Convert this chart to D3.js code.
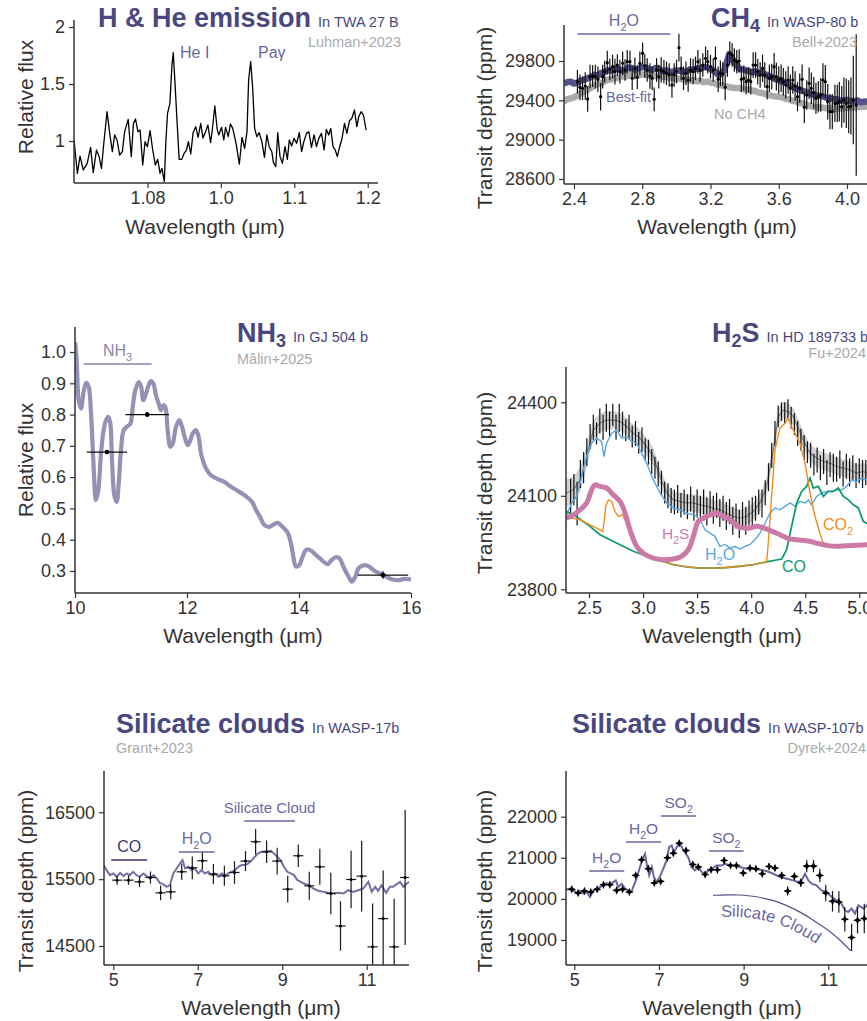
<!DOCTYPE html>
<html><head><meta charset="utf-8">
<script src="https://cdn.jsdelivr.net/npm/d3@7"></script>
<style>body{margin:0;background:#fff} text{font-family:"Liberation Sans",Arial,sans-serif}</style>
</head><body><svg id="c" width="867" height="1021"></svg>
<script>
// ---------------- DATA ----------------
// Panel 1: H & He emission (TWA 27 B)
const heSpectrum = [[1.0000,1.009],[1.0023,0.716],[1.0041,0.868],[1.0063,0.746],[1.0090,0.804],[1.0113,0.944],[1.0131,0.722],[1.0153,0.921],[1.0171,0.863],[1.0187,0.760],[1.0203,0.980],[1.0225,1.257],[1.0243,1.067],[1.0261,0.906],[1.0277,1.053],[1.0293,1.009],[1.0311,0.877],[1.0329,0.906],[1.0345,1.082],[1.0369,1.190],[1.0390,0.863],[1.0405,1.155],[1.0419,1.193],[1.0435,1.082],[1.0450,1.096],[1.0468,0.789],[1.0484,0.994],[1.0500,0.950],[1.0518,1.091],[1.0536,0.921],[1.0554,0.789],[1.0570,0.839],[1.0586,0.716],[1.0599,0.760],[1.0615,0.643],[1.0626,1.009],[1.0637,1.243],[1.0653,1.330],[1.0667,1.667],[1.0676,1.775],[1.0689,1.477],[1.0705,1.096],[1.0716,0.839],[1.0734,0.839],[1.0750,0.892],[1.0766,0.921],[1.0779,0.994],[1.0795,0.886],[1.0811,1.073],[1.0829,1.126],[1.0845,1.032],[1.0863,1.155],[1.0878,1.026],[1.0896,1.082],[1.0912,1.140],[1.0930,0.985],[1.0941,1.091],[1.0959,1.307],[1.0975,1.102],[1.0986,1.053],[1.1005,1.120],[1.1020,1.009],[1.1032,1.120],[1.1050,1.038],[1.1065,1.149],[1.1081,1.111],[1.1104,0.974],[1.1126,0.798],[1.1144,1.032],[1.1162,0.936],[1.1178,1.082],[1.1189,1.535],[1.1203,1.696],[1.1216,1.477],[1.1230,1.111],[1.1245,1.038],[1.1261,1.073],[1.1279,0.994],[1.1297,0.857],[1.1313,1.053],[1.1329,0.950],[1.1347,0.906],[1.1358,0.810],[1.1374,0.775],[1.1387,1.073],[1.1403,0.863],[1.1419,0.804],[1.1437,0.950],[1.1453,0.839],[1.1466,1.009],[1.1482,0.956],[1.1498,1.023],[1.1516,0.980],[1.1534,1.073],[1.1550,0.906],[1.1565,0.994],[1.1583,1.067],[1.1599,1.082],[1.1617,0.944],[1.1635,1.053],[1.1651,0.950],[1.1667,1.023],[1.1685,1.067],[1.1703,0.921],[1.1718,1.102],[1.1734,1.053],[1.1748,1.111],[1.1764,0.950],[1.1779,0.921],[1.1793,0.863],[1.1809,0.950],[1.1824,1.015],[1.1842,1.155],[1.1858,1.067],[1.1876,1.178],[1.1892,1.199],[1.1910,1.272],[1.1926,1.126],[1.1939,1.213],[1.1955,1.257],[1.1971,1.228],[1.1989,1.096]];
const heXTickVals = [1.05,1.10,1.15,1.20];
const heXTickLabels = ["1.08","1.0","1.1","1.2"];
const heYTicks = [1,1.5,2];

// Panel 2: CH4 (WASP-80 b)
const ch4BestFit = [[2.34,29570],[2.36,29585],[2.38,29590],[2.40,29570],[2.42,29580],[2.44,29600],[2.46,29610],[2.48,29625],[2.50,29635],[2.52,29660],[2.54,29650],[2.56,29680],[2.58,29690],[2.60,29705],[2.62,29700],[2.64,29725],[2.66,29720],[2.68,29700],[2.70,29710],[2.72,29735],[2.74,29730],[2.76,29710],[2.78,29725],[2.80,29740],[2.82,29735],[2.84,29715],[2.86,29710],[2.88,29730],[2.90,29720],[2.92,29695],[2.94,29705],[2.96,29690],[2.98,29690],[3.00,29705],[3.02,29700],[3.04,29685],[3.06,29695],[3.08,29715],[3.10,29710],[3.12,29725],[3.14,29720],[3.16,29740],[3.18,29735],[3.20,29720],[3.22,29700],[3.25,29655],[3.28,29700],[3.31,29870],[3.34,29790],[3.37,29720],[3.40,29710],[3.42,29700],[3.44,29685],[3.46,29695],[3.48,29675],[3.50,29680],[3.52,29665],[3.54,29650],[3.56,29635],[3.58,29615],[3.60,29605],[3.62,29590],[3.64,29580],[3.66,29560],[3.68,29540],[3.70,29520],[3.72,29510],[3.74,29495],[3.76,29485],[3.78,29470],[3.80,29460],[3.82,29450],[3.84,29445],[3.86,29440],[3.88,29425],[3.90,29420],[3.92,29415],[3.94,29410],[3.96,29395],[3.98,29400],[4.00,29405],[4.02,29395],[4.04,29390],[4.06,29400],[4.08,29380],[4.10,29385],[4.14,29390],[4.20,29380],[4.30,29370]];
const ch4NoCH4 = [[2.34,29390],[2.36,29410],[2.38,29420],[2.40,29430],[2.42,29450],[2.44,29475],[2.46,29490],[2.48,29505],[2.50,29530],[2.52,29550],[2.54,29565],[2.56,29575],[2.58,29595],[2.60,29610],[2.62,29615],[2.64,29625],[2.66,29630],[2.68,29645],[2.70,29640],[2.72,29650],[2.74,29650],[2.76,29660],[2.78,29655],[2.80,29665],[2.82,29660],[2.84,29650],[2.86,29655],[2.88,29645],[2.90,29650],[2.92,29640],[2.94,29640],[2.96,29625],[2.98,29630],[3.00,29620],[3.02,29620],[3.04,29610],[3.06,29615],[3.08,29600],[3.10,29605],[3.12,29595],[3.14,29600],[3.16,29585],[3.18,29590],[3.20,29580],[3.22,29575],[3.24,29560],[3.26,29555],[3.28,29545],[3.30,29540],[3.32,29530],[3.34,29525],[3.36,29525],[3.38,29520],[3.40,29510],[3.42,29510],[3.44,29500],[3.46,29495],[3.48,29480],[3.50,29475],[3.52,29465],[3.54,29455],[3.56,29445],[3.58,29440],[3.60,29435],[3.62,29430],[3.64,29415],[3.66,29410],[3.68,29395],[3.70,29390],[3.72,29375],[3.74,29370],[3.76,29355],[3.78,29345],[3.80,29335],[3.82,29330],[3.84,29330],[3.86,29325],[3.88,29320],[3.90,29320],[3.94,29315],[3.98,29320],[4.02,29325],[4.06,29330],[4.10,29335],[4.14,29340],[4.30,29345]];
const ch4Obs = [[2.420,29590,120],[2.435,29532,130],[2.450,29522,120],[2.466,29546,140],[2.480,29413,130],[2.494,29641,120],[2.509,29647,110],[2.525,29641,120],[2.540,29614,130],[2.556,29437,140],[2.568,29641,120],[2.580,29692,110],[2.595,29783,120],[2.610,29715,110],[2.626,29742,120],[2.640,29692,130],[2.654,29759,110],[2.669,29692,120],[2.685,29776,120],[2.699,29708,110],[2.712,29793,120],[2.728,29793,110],[2.741,29624,120],[2.757,29725,110],[2.771,29634,120],[2.786,29776,120],[2.802,29878,110],[2.815,29749,120],[2.829,29708,120],[2.845,29647,130],[2.858,29624,120],[2.870,29410,120],[2.884,29708,120],[2.897,29641,120],[2.911,29708,130],[2.927,29692,120],[2.942,29675,120],[2.958,29658,120],[2.974,29556,130],[2.987,29658,120],[3.001,29692,120],[3.015,29936,140],[3.028,29725,120],[3.042,29624,120],[3.056,29675,120],[3.069,29607,120],[3.083,29708,120],[3.098,29692,130],[3.112,29725,120],[3.126,29793,120],[3.139,29708,120],[3.155,29759,120],[3.171,29827,120],[3.184,29793,120],[3.200,29742,120],[3.216,29708,120],[3.229,29827,120],[3.245,29614,130],[3.258,29675,130],[3.272,29668,120],[3.286,29532,130],[3.299,29759,120],[3.313,29878,120],[3.327,29861,120],[3.340,29810,120],[3.354,29793,120],[3.368,29800,120],[3.381,29614,130],[3.395,29624,130],[3.409,29590,130],[3.423,29607,130],[3.436,29590,130],[3.450,29759,130],[3.464,29759,130],[3.477,29692,130],[3.491,29658,130],[3.505,29725,140],[3.518,29658,130],[3.532,29539,130],[3.545,29624,140],[3.559,29641,130],[3.573,29742,140],[3.586,29641,140],[3.600,29607,140],[3.614,29624,140],[3.627,29590,140],[3.641,29556,140],[3.655,29607,140],[3.668,29522,140],[3.682,29607,140],[3.696,29546,150],[3.710,29437,150],[3.723,29522,150],[3.737,29614,150],[3.750,29329,160],[3.764,29454,150],[3.778,29573,160],[3.791,29522,160],[3.805,29478,160],[3.818,29420,160],[3.832,29437,160],[3.846,29454,170],[3.859,29607,170],[3.873,29590,170],[3.887,29386,180],[3.900,29285,180],[3.914,29285,180],[3.929,29369,190],[3.943,29369,190],[3.955,29386,200],[3.969,29335,210],[3.982,29403,230],[3.996,29369,250],[4.010,29335,270],[4.023,29342,290],[4.037,29403,450],[4.054,29352,720]];

// Panel 3: NH3 (GJ 504 b)
const nh3Model = [[10.0,1.032],[10.03,0.973],[10.065,0.846],[10.107,0.819],[10.149,0.867],[10.196,0.901],[10.244,0.888],[10.286,0.803],[10.327,0.654],[10.375,0.527],[10.417,0.559],[10.464,0.676],[10.512,0.75],[10.554,0.782],[10.595,0.793],[10.631,0.771],[10.661,0.654],[10.702,0.543],[10.744,0.521],[10.78,0.58],[10.821,0.686],[10.869,0.75],[10.923,0.761],[10.988,0.771],[11.03,0.824],[11.077,0.878],[11.137,0.904],[11.179,0.89],[11.22,0.846],[11.268,0.867],[11.315,0.894],[11.357,0.907],[11.399,0.899],[11.446,0.862],[11.494,0.835],[11.536,0.814],[11.577,0.83],[11.613,0.824],[11.655,0.75],[11.702,0.697],[11.744,0.707],[11.804,0.761],[11.863,0.782],[11.911,0.761],[11.958,0.729],[12.012,0.702],[12.06,0.718],[12.101,0.739],[12.161,0.75],[12.208,0.729],[12.25,0.676],[12.339,0.628],[12.429,0.606],[12.548,0.594],[12.667,0.585],[12.786,0.569],[12.935,0.553],[13.054,0.539],[13.161,0.521],[13.232,0.495],[13.304,0.473],[13.381,0.447],[13.47,0.441],[13.53,0.447],[13.619,0.454],[13.708,0.441],[13.798,0.422],[13.857,0.388],[13.899,0.346],[13.946,0.314],[14.006,0.319],[14.065,0.346],[14.137,0.369],[14.214,0.365],[14.304,0.351],[14.393,0.337],[14.512,0.322],[14.571,0.333],[14.649,0.344],[14.72,0.341],[14.792,0.314],[14.869,0.287],[14.946,0.266],[15.006,0.282],[15.065,0.309],[15.167,0.319],[15.256,0.314],[15.345,0.301],[15.435,0.293],[15.554,0.282],[15.673,0.273],[15.792,0.271],[15.881,0.275],[16.0,0.273]];
const nh3Obs = [[10.57,0.680,0.36,0.004],[11.29,0.800,0.39,0.008],[15.50,0.287,0.45,0.012]];

// Panel 4: H2S (HD 189733 b)
const h2sMedian = [[2.287,24108,45],[2.355,24119,42],[2.417,24151,40],[2.478,24226,35],[2.54,24311,32],[2.602,24333,30],[2.663,24343,30],[2.725,24343,28],[2.787,24338,28],[2.848,24322,28],[2.91,24301,28],[2.972,24285,28],[3.033,24258,28],[3.095,24226,28],[3.157,24162,28],[3.218,24109,28],[3.28,24087,28],[3.342,24082,28],[3.403,24077,28],[3.465,24077,28],[3.527,24071,28],[3.588,24066,28],[3.65,24060,28],[3.711,24055,28],[3.773,24044,28],[3.835,24034,28],[3.896,24028,28],[3.958,24034,28],[4.02,24050,28],[4.081,24077,28],[4.143,24130,28],[4.205,24247,28],[4.251,24354,28],[4.297,24375,28],[4.343,24370,28],[4.39,24354,28],[4.436,24317,28],[4.482,24279,28],[4.544,24237,28],[4.605,24221,28],[4.667,24210,28],[4.729,24205,28],[4.79,24194,28],[4.852,24189,28],[4.914,24183,28],[4.975,24173,28],[5.037,24178,28],[5.068,24173,28],[5.2,24165,28],[5.4,24160,28]];
const h2sObs = [[2.33,24095,60],[2.36,24120,50],[2.39,24075,70],[2.42,24170,45],[2.45,24190,50],[2.48,24240,45],[2.51,24290,40],[2.54,24320,40],[2.57,24300,35],[2.60,24340,40],[2.63,24320,40],[2.66,24350,45],[2.69,24330,40],[2.72,24360,35],[2.75,24320,40],[2.78,24350,45],[2.81,24330,40],[2.84,24310,35],[2.87,24320,40],[2.90,24290,35],[2.93,24300,40],[2.96,24270,35],[2.99,24280,40],[3.02,24250,35],[3.05,24240,40],[3.08,24210,40],[3.11,24190,35],[3.14,24170,40],[3.17,24140,40],[3.20,24110,35],[3.23,24100,40],[3.26,24085,40],[3.29,24080,40],[3.32,24090,45],[3.35,24070,40],[3.38,24080,40],[3.41,24065,40],[3.44,24090,40],[3.47,24060,40],[3.50,24075,45],[3.53,24060,40],[3.56,24080,40],[3.59,24050,45],[3.62,24075,40],[3.65,24055,45],[3.68,24070,40],[3.71,24045,45],[3.74,24060,40],[3.77,24035,45],[3.80,24050,40],[3.83,24020,45],[3.86,24035,40],[3.89,24010,45],[3.92,24040,40],[3.95,24020,45],[3.98,24045,40],[4.01,24050,45],[4.04,24060,40],[4.07,24080,40],[4.10,24075,45],[4.13,24110,40],[4.16,24160,45],[4.19,24230,40],[4.22,24300,40],[4.25,24355,35],[4.28,24370,30],[4.31,24365,35],[4.34,24380,30],[4.37,24350,35],[4.40,24330,35],[4.43,24300,40],[4.46,24280,35],[4.49,24255,40],[4.52,24240,35],[4.55,24230,40],[4.58,24200,35],[4.61,24215,40],[4.64,24190,40],[4.67,24210,40],[4.70,24175,40],[4.73,24200,40],[4.76,24190,45],[4.79,24185,40],[4.82,24200,45],[4.85,24170,40],[4.88,24195,40],[4.91,24175,45],[4.94,24190,40],[4.97,24165,40],[5.00,24180,40],[5.03,24170,45],[5.06,24175,40],[5.09,24165,40],[5.12,24180,40]];
const h2sH2O = [[2.287,24034],[2.34,24077],[2.386,24098],[2.432,24162],[2.478,24226],[2.524,24269],[2.571,24285],[2.617,24274],[2.639,24226],[2.663,24269],[2.71,24301],[2.756,24311],[2.802,24285],[2.848,24290],[2.895,24274],[2.941,24269],[2.987,24237],[3.033,24205],[3.095,24151],[3.157,24109],[3.218,24077],[3.28,24061],[3.342,24055],[3.403,24044],[3.48,24039],[3.527,24023],[3.573,23991],[3.619,23980],[3.665,23970],[3.711,23938],[3.758,23944],[3.804,23932],[3.85,23938],[3.896,23929],[3.943,23938],[3.989,23944],[4.035,23959],[4.081,23980],[4.128,24012],[4.174,24044],[4.22,24061],[4.266,24055],[4.313,24066],[4.359,24077],[4.405,24066],[4.451,24082],[4.498,24077],[4.528,24087],[4.559,24071],[4.605,24098],[4.652,24109],[4.698,24114],[4.744,24114],[4.79,24119],[4.837,24119],[4.883,24130],[4.929,24151],[4.975,24146],[5.022,24157],[5.068,24151],[5.2,24150]];
const h2sCO2 = [[2.287,24028],[2.355,24028],[2.417,24023],[2.478,24012],[2.571,23996],[2.626,23986],[2.639,24012],[2.654,24066],[2.679,24087],[2.71,24082],[2.74,24050],[2.771,24034],[2.811,24039],[2.848,24012],[2.895,23970],[2.956,23927],[3.033,23906],[3.157,23893],[3.28,23879],[3.403,23872],[3.527,23868],[3.65,23868],[3.773,23870],[3.896,23874],[4.02,23879],[4.143,23889],[4.158,23948],[4.189,24098],[4.22,24247],[4.266,24317],[4.313,24333],[4.343,24349],[4.374,24322],[4.405,24301],[4.451,24269],[4.498,24205],[4.544,24109],[4.59,24034],[4.636,23980],[4.667,23948],[4.713,23943],[5.0,23941],[5.4,23942]];
const h2sCO = [[2.287,24050],[2.355,24039],[2.417,24025],[2.509,24002],[2.602,23975],[2.694,23959],[2.787,23943],[2.91,23922],[3.033,23906],[3.157,23893],[3.28,23879],[3.403,23872],[3.527,23868],[3.65,23868],[3.773,23870],[3.896,23874],[4.02,23879],[4.143,23888],[4.282,23897],[4.328,23927],[4.374,24002],[4.421,24077],[4.467,24114],[4.513,24130],[4.544,24157],[4.575,24125],[4.621,24130],[4.667,24098],[4.713,24114],[4.76,24114],[4.806,24125],[4.852,24098],[4.899,24087],[4.945,24071],[4.991,24061],[5.037,24018],[5.068,24012],[5.2,24030]];
const h2sH2S = [[2.287,24028],[2.355,24039],[2.417,24055],[2.478,24077],[2.524,24119],[2.555,24135],[2.602,24130],[2.663,24125],[2.725,24103],[2.787,24082],[2.833,24045],[2.879,23991],[2.941,23938],[3.002,23916],[3.095,23900],[3.188,23895],[3.28,23897],[3.357,23906],[3.419,23927],[3.465,23970],[3.511,24018],[3.557,24028],[3.619,24039],[3.681,24044],[3.742,24034],[3.804,24023],[3.866,24004],[3.927,23997],[3.989,23997],[4.051,24002],[4.112,23997],[4.174,23989],[4.236,23980],[4.297,23970],[4.359,23961],[4.421,23959],[4.482,23957],[4.544,23954],[4.605,23948],[4.698,23941],[4.79,23938],[4.883,23940],[4.975,23941],[5.068,23943],[5.4,23944]];

// Panel 5: Silicate clouds (WASP-17b)
const w17Model = [[4.78,15710],[4.84,15635],[4.92,15560],[5.0,15585],[5.08,15535],[5.16,15595],[5.24,15545],[5.32,15585],[5.39,15560],[5.47,15610],[5.55,15560],[5.63,15535],[5.71,15585],[5.79,15545],[5.87,15510],[5.95,15560],[6.03,15510],[6.1,15445],[6.18,15425],[6.26,15385],[6.34,15410],[6.42,15585],[6.5,15660],[6.58,15735],[6.64,15785],[6.7,15660],[6.78,15685],[6.85,15635],[6.93,15660],[7.01,15585],[7.09,15635],[7.17,15585],[7.25,15610],[7.33,15560],[7.41,15585],[7.49,15535],[7.57,15585],[7.64,15545],[7.72,15585],[7.8,15610],[7.88,15635],[7.96,15685],[8.04,15710],[8.12,15710],[8.2,15735],[8.28,15785],[8.35,15835],[8.43,15885],[8.51,15910],[8.63,15910],[8.73,15925],[8.8,15885],[8.88,15835],[8.96,15785],[9.04,15685],[9.12,15610],[9.2,15585],[9.28,15560],[9.36,15485],[9.44,15460],[9.51,15435],[9.62,15410],[9.74,15360],[9.85,15325],[9.97,15310],[10.09,15295],[10.21,15285],[10.33,15295],[10.45,15285],[10.56,15335],[10.68,15310],[10.8,15335],[10.92,15360],[11.04,15460],[11.12,15310],[11.2,15385],[11.27,15325],[11.35,15410],[11.46,15295],[11.55,15385],[11.63,15385],[11.71,15425],[11.79,15460],[11.87,15385],[11.95,15435],[12.01,15460]];
const w17Obs = [[5.09,15485,0.12,70],[5.36,15485,0.12,70],[5.62,15460,0.12,80],[5.88,15525,0.12,90],[6.12,15295,0.12,110],[6.36,15310,0.12,110],[6.62,15610,0.12,120],[6.87,15670,0.12,170],[7.11,15775,0.12,130],[7.37,15575,0.12,150],[7.63,15550,0.12,150],[7.87,15600,0.12,170],[8.13,15770,0.12,150],[8.37,16060,0.12,190],[8.63,15910,0.12,170],[8.88,15770,0.12,200],[9.13,15350,0.12,200],[9.38,15850,0.12,170],[9.64,15400,0.12,210],[9.89,15685,0.12,270],[10.15,15285,0.12,310],[10.38,14800,0.12,370],[10.63,15495,0.12,430],[10.88,15545,0.12,530],[11.14,14487,0.12,650],[11.39,14910,0.12,720],[11.65,14487,0.12,720],[11.91,15525,0.12,1010]];

// Panel 6: Silicate clouds (WASP-107b)
const w107Model = [[4.8,20224],[4.9,20249],[4.98,20208],[5.06,20144],[5.13,20192],[5.21,20127],[5.29,20168],[5.37,20047],[5.45,20208],[5.53,20249],[5.61,20289],[5.69,20329],[5.76,20386],[5.84,20354],[5.92,20410],[5.98,20451],[6.04,20289],[6.12,20370],[6.2,20249],[6.28,20208],[6.35,20168],[6.39,20289],[6.47,20491],[6.55,20774],[6.63,21016],[6.67,21097],[6.71,20855],[6.77,20572],[6.83,20774],[6.88,20531],[6.94,20410],[7.02,20531],[7.1,20733],[7.18,20935],[7.24,21259],[7.3,21299],[7.35,21137],[7.42,21259],[7.48,21380],[7.54,21259],[7.61,21137],[7.69,21016],[7.77,20774],[7.85,20693],[7.93,20774],[8.01,20653],[8.09,20612],[8.17,20693],[8.24,20733],[8.36,20814],[8.48,20814],[8.56,20855],[8.68,20814],[8.8,20814],[8.91,20774],[9.07,20733],[9.23,20733],[9.39,20709],[9.54,20677],[9.7,20612],[9.86,20531],[10.02,20491],[10.17,20451],[10.29,20410],[10.37,20451],[10.45,20612],[10.53,20451],[10.61,20370],[10.72,20329],[10.84,20208],[10.96,20168],[11.08,20047],[11.2,19966],[11.31,19885],[11.39,19723],[11.47,19683],[11.55,19764],[11.63,19643],[11.71,19844],[11.83,19764],[11.91,19844],[12.0,19800],[12.2,19780]];
const w107Obs = [[4.94,20232,50],[5.09,20144,50],[5.24,20192,50],[5.39,20168,50],[5.54,20232,50],[5.69,20345,50],[5.84,20345,50],[6.00,20208,50],[6.14,20232,50],[6.30,20168,50],[6.45,20572,60],[6.59,20952,60],[6.75,20733,60],[6.89,20386,60],[7.04,20426,60],[7.20,21000,60],[7.34,21113,60],[7.48,21356,60],[7.64,21178,60],[7.80,20838,60],[7.93,20774,60],[8.09,20596,70],[8.23,20709,60],[8.38,20709,60],[8.54,20935,70],[8.69,20814,60],[8.83,20814,60],[8.99,20628,70],[9.15,20749,60],[9.29,20733,60],[9.44,20612,70],[9.60,20790,70],[9.74,20749,70],[9.90,20572,80],[10.04,20192,110],[10.20,20548,90],[10.35,20394,100],[10.49,20798,150],[10.65,20798,150],[10.80,20572,160],[10.94,20144,200],[11.10,19942,250],[11.25,19925,260],[11.39,19505,300],[11.55,19061,330],[11.69,19481,320],[11.85,19522,360]];
const w107CloudArc = [[8.28,20087],[8.6,20100],[8.91,20103],[9.3,20060],[9.7,19966],[10.0,19850],[10.33,19683],[10.6,19520],[10.88,19319],[11.1,19160],[11.28,18996],[11.53,18738]];

// ---------------- DRAWING ----------------
const TITLE = "#4a4780", ANNO = "#6a679f", AX = "#333", REF = "#aaaaaa";
const svg = d3.select("#c");
const defs = svg.append("defs");

function panel(id, box, xd, xr, yd, yr, xTicks, xFmt, yTicks, yFmt){
  const g = svg.append("g").attr("transform", `translate(${box.l},${box.t})`);
  defs.append("clipPath").attr("id", "clip" + id).append("rect")
    .attr("x", 0).attr("y", -6).attr("width", box.w).attr("height", box.h + 6);
  const x = d3.scaleLinear(xd, xr), y = d3.scaleLinear(yd, yr);
  const plot = g.append("g").attr("clip-path", `url(#clip${id})`);
  const gx = g.append("g").attr("transform", `translate(0,${box.h})`)
    .call(d3.axisBottom(x).tickValues(xTicks).tickFormat(xFmt).tickSize(5).tickPadding(3).tickSizeOuter(0));
  const gy = g.append("g")
    .call(d3.axisLeft(y).tickValues(yTicks).tickFormat(yFmt).tickSize(5).tickPadding(4).tickSizeOuter(0));
  [gx, gy].forEach(a => {
    a.select(".domain").remove();
    a.selectAll("line").attr("stroke", AX).attr("stroke-width", 1.2);
    a.selectAll("text").attr("fill", AX).attr("font-size", 18).attr("font-family", '"Liberation Sans",Arial,sans-serif');
  });
  g.append("line").attr("x1", 0).attr("x2", box.w).attr("y1", box.h).attr("y2", box.h).attr("stroke", AX).attr("stroke-width", 1.5);
  g.append("line").attr("x1", 0).attr("x2", 0).attr("y1", 0).attr("y2", box.h).attr("stroke", AX).attr("stroke-width", 1.5);
  return {g, plot, x, y, box};
}

function axisTitles(xlabel, xc, xb, ylabel, yx, yc){
  svg.append("text").attr("x", xc).attr("y", xb).attr("text-anchor", "middle")
    .attr("font-size", 21).attr("fill", AX).text(xlabel);
  svg.append("text").attr("transform", `translate(${yx},${yc}) rotate(-90)`).attr("text-anchor", "middle")
    .attr("font-size", 21).attr("fill", AX).text(ylabel);
}

// parts: [text, isSub]
function title(x, y, parts, sub){
  const t = svg.append("text").attr("x", x).attr("y", y).attr("fill", TITLE).attr("font-weight", "bold");
  let down = false;
  parts.forEach(([s, isSub]) => {
    const ts = t.append("tspan").text(s).attr("font-size", isSub ? 18 : 27);
    if (isSub && !down) { ts.attr("dy", 5); down = true; }
    else if (!isSub && down) { ts.attr("dy", -5); down = false; }
  });
  const st = t.append("tspan").text(" " + sub).attr("font-size", 14.5).attr("font-weight", "normal").attr("dx", 3);
  if (down) st.attr("dy", -5);
}
function ref(x, y, s, anchor){
  svg.append("text").attr("x", x).attr("y", y).attr("text-anchor", anchor).attr("font-size", 14.5).attr("fill", REF).text(s);
}
function chem(sel, s, size){
  const parts = s.match(/\d+|[^\d]+/g);
  let down = false;
  parts.forEach(p => {
    const isNum = /^\d+$/.test(p);
    const ts = sel.append("tspan").text(p);
    if (isNum) { ts.attr("font-size", size * 0.68).attr("dy", size * 0.3); down = true; }
    else if (down) { ts.attr("font-size", size).attr("dy", -size * 0.3); down = false; }
  });
  return sel;
}
function label(g, x, y, s, color, size, anchor){
  const t = g.append("text").attr("x", x).attr("y", y).attr("fill", color).attr("font-size", size)
    .attr("text-anchor", anchor || "middle");
  return chem(t, s, size);
}
function bandLabel(P, x0, x1, ly, s, color, size){
  P.g.append("line").attr("x1", P.x(x0)).attr("x2", P.x(x1)).attr("y1", ly).attr("y2", ly)
    .attr("stroke", color).attr("stroke-width", 1.6);
  label(P.g, (P.x(x0) + P.x(x1)) / 2, ly - 8, s, color, size);
}
const line = (P, curve) => d3.line().x(d => P.x(d[0])).y(d => P.y(d[1])).curve(curve || d3.curveLinear);

// ---- Panel 1 ----
{
  const P = panel(1, {l:74, t:20, w:304, h:163}, [1.0, 1.207], [0, 304], [1, 2], [121, 7],
    heXTickVals, (d, i) => heXTickLabels[i], heYTicks, d => d3.format("")(d));
  P.plot.append("path").datum(heSpectrum).attr("d", line(P)).attr("fill", "none").attr("stroke", "#000").attr("stroke-width", 1.3).attr("stroke-linejoin", "round");
  P.g.append("text").attr("x", 106).attr("y", 38).attr("fill", ANNO).attr("font-size", 16).text("He I");
  P.g.append("text").attr("x", 184).attr("y", 38).attr("fill", ANNO).attr("font-size", 16).text("Paγ");
  title(98, 27, [["H & He emission", false]], "In TWA 27 B");
  ref(401, 47, "Luhman+2023", "end");
  axisTitles("Wavelength (μm)", 205, 234, "Relative flux", 33, 97);
}
// ---- Panel 2 ----
{
  const P = panel(2, {l:564, t:25, w:345, h:159}, [2.4, 4.0], [10, 283], [28600, 29800], [154, 36],
    [2.4, 2.8, 3.2, 3.6, 4.0], d3.format(".1f"), [28600, 29000, 29400, 29800], d3.format("d"));
  P.plot.append("path").datum(ch4NoCH4).attr("d", line(P)).attr("fill", "none").attr("stroke", "#aaaaaa").attr("stroke-width", 6.5);
  P.plot.append("path").datum(ch4BestFit).attr("d", line(P)).attr("fill", "none").attr("stroke", "#55528a").attr("stroke-width", 6.5).attr("stroke-linejoin", "round");
  P.plot.selectAll(".eb").data(ch4Obs).join("line")
    .attr("x1", d => P.x(d[0])).attr("x2", d => P.x(d[0]))
    .attr("y1", d => P.y(d[1] - d[2])).attr("y2", d => P.y(d[1] + d[2]))
    .attr("stroke", "#111").attr("stroke-width", 1.2);
  P.plot.selectAll(".pt").data(ch4Obs).join("circle")
    .attr("cx", d => P.x(d[0])).attr("cy", d => P.y(d[1])).attr("r", 1.6).attr("fill", "#000");
  bandLabel(P, 2.42, 2.965, 9, "H2O", ANNO, 16);
  P.g.append("text").attr("x", 42).attr("y", 77).attr("fill", ANNO).attr("font-size", 14.5).text("Best-fit");
  P.g.append("text").attr("x", 150).attr("y", 94).attr("fill", REF).attr("font-size", 14.5).text("No CH4");
  title(711, 27, [["CH", false], ["4", true]], "In WASP-80 b");
  ref(857, 47, "Bell+2023", "end");
  axisTitles("Wavelength (μm)", 717, 234, "Transit depth (ppm)", 492, 118);
}
// ---- Panel 3 ----
{
  const P = panel(3, {l:75, t:327, w:336, h:266}, [10, 16], [0, 336], [0.3, 1.0], [244, 25],
    [10, 12, 14, 16], d3.format("d"), [0.3, 0.4, 0.5, 0.6, 0.7, 0.8, 0.9, 1.0], d3.format(".1f"));
  P.plot.append("path").datum(nh3Model).attr("d", line(P, d3.curveCatmullRom)).attr("fill", "none")
    .attr("stroke", "#9391b4").attr("stroke-width", 4.2).attr("stroke-linejoin", "round");
  nh3Obs.forEach(d => {
    P.plot.append("line").attr("x1", P.x(d[0] - d[2])).attr("x2", P.x(d[0] + d[2])).attr("y1", P.y(d[1])).attr("y2", P.y(d[1])).attr("stroke", "#111").attr("stroke-width", 1.3);
    P.plot.append("line").attr("x1", P.x(d[0])).attr("x2", P.x(d[0])).attr("y1", P.y(d[1] - d[3])).attr("y2", P.y(d[1] + d[3])).attr("stroke", "#111").attr("stroke-width", 1.3);
    P.plot.append("circle").attr("cx", P.x(d[0])).attr("cy", P.y(d[1])).attr("r", 2.4).attr("fill", "#000");
  });
  bandLabel(P, 10.15, 11.37, 37, "NH3", "#8886ad", 16);
  title(237, 342, [["NH", false], ["3", true]], "In GJ 504 b");
  ref(237, 364, "Mâlin+2025", "start");
  axisTitles("Wavelength (μm)", 243, 643, "Relative flux", 33, 460);
}
// ---- Panel 4 ----
{
  const P = panel(4, {l:566, t:367, w:345, h:226}, [2.5, 5.0], [23, 293.3], [23800, 24400], [222.3, 35.3],
    [2.5, 3.0, 3.5, 4.0, 4.5, 5.0], d3.format(".1f"), [23800, 24100, 24400], d3.format("d"));
  P.plot.append("path").datum(h2sMedian)
    .attr("d", d3.area().x(d => P.x(d[0])).y0(d => P.y(d[1] - d[2])).y1(d => P.y(d[1] + d[2])))
    .attr("fill", "#d3d3d3");
  P.plot.append("path").datum(h2sMedian).attr("d", line(P)).attr("fill", "none").attr("stroke", "#808080").attr("stroke-width", 1.2);
  P.plot.selectAll(".eb").data(h2sObs).join("line")
    .attr("x1", d => P.x(d[0])).attr("x2", d => P.x(d[0]))
    .attr("y1", d => P.y(d[1] - d[2])).attr("y2", d => P.y(d[1] + d[2]))
    .attr("stroke", "#111").attr("stroke-width", 1.2);
  P.plot.append("path").datum(h2sH2O).attr("d", line(P)).attr("fill", "none").attr("stroke", "#56a8e6").attr("stroke-width", 1.4);
  P.plot.append("path").datum(h2sCO).attr("d", line(P)).attr("fill", "none").attr("stroke", "#109a6e").attr("stroke-width", 1.8);
  P.plot.append("path").datum(h2sCO2).attr("d", line(P)).attr("fill", "none").attr("stroke", "#f28c1f").attr("stroke-width", 1.4);
  P.plot.append("path").datum(h2sH2S).attr("d", line(P, d3.curveCatmullRom)).attr("fill", "none").attr("stroke", "#cc79a7").attr("stroke-width", 5).attr("stroke-linejoin", "round");
  label(P.g, 96, 172, "H2S", "#cc79a7", 15.5, "start");
  label(P.g, 139, 193, "H2O", "#56a8e6", 16, "start");
  label(P.g, 216, 205, "CO", "#109a6e", 16, "start");
  label(P.g, 257, 163, "CO2", "#f28c1f", 16, "start");
  title(712, 342, [["H", false], ["2", true], ["S", false]], "In HD 189733 b");
  ref(866, 358, "Fu+2024", "end");
  axisTitles("Wavelength (μm)", 722, 643, "Transit depth (ppm)", 492, 483);
}
// ---- Panel 5 ----
{
  const P = panel(5, {l:104, t:771, w:305, h:194}, [5, 11], [9.3, 262.7], [14500, 16500], [175, 41.3],
    [5, 7, 9, 11], d3.format("d"), [14500, 15500, 16500], d3.format("d"));
  P.plot.append("path").datum(w17Model).attr("d", line(P)).attr("fill", "none").attr("stroke", "#7471a5").attr("stroke-width", 2);
  P.plot.selectAll(".ey").data(w17Obs).join("line")
    .attr("x1", d => P.x(d[0])).attr("x2", d => P.x(d[0]))
    .attr("y1", d => P.y(d[1] - d[3])).attr("y2", d => P.y(d[1] + d[3]))
    .attr("stroke", "#1a1a1a").attr("stroke-width", 1.2);
  P.plot.selectAll(".ex").data(w17Obs).join("line")
    .attr("x1", d => P.x(d[0] - d[2])).attr("x2", d => P.x(d[0] + d[2]))
    .attr("y1", d => P.y(d[1])).attr("y2", d => P.y(d[1]))
    .attr("stroke", "#1a1a1a").attr("stroke-width", 1.2);
  P.plot.selectAll(".pt").data(w17Obs).join("circle")
    .attr("cx", d => P.x(d[0])).attr("cy", d => P.y(d[1])).attr("r", 1.5).attr("fill", "#000");
  bandLabel(P, 4.95, 5.8, 89, "CO", "#3a3774", 16);
  bandLabel(P, 6.55, 7.4, 81, "H2O", ANNO, 16);
  bandLabel(P, 8.1, 9.3, 50, "Silicate Cloud", ANNO, 15);
  title(116, 733, [["Silicate clouds", false]], "In WASP-17b");
  ref(116, 753, "Grant+2023", "start");
  axisTitles("Wavelength (μm)", 261, 1015, "Transit depth (ppm)", 33, 881);
}
// ---- Panel 6 ----
{
  const P = panel(6, {l:566, t:771, w:345, h:194}, [5, 11], [8.3, 262.3], [19000, 22000], [169, 45.7],
    [5, 7, 9, 11], d3.format("d"), [19000, 20000, 21000, 22000], d3.format("d"));
  P.plot.append("path").datum(w107Model).attr("d", line(P)).attr("fill", "none").attr("stroke", "#6b68a0").attr("stroke-width", 2);
  P.plot.selectAll(".ey").data(w107Obs).join("line")
    .attr("x1", d => P.x(d[0])).attr("x2", d => P.x(d[0]))
    .attr("y1", d => P.y(d[1] - d[2])).attr("y2", d => P.y(d[1] + d[2]))
    .attr("stroke", "#1a1a1a").attr("stroke-width", 1.2);
  P.plot.selectAll(".ex").data(w107Obs).join("line")
    .attr("x1", d => P.x(d[0] - 0.07)).attr("x2", d => P.x(d[0] + 0.07))
    .attr("y1", d => P.y(d[1])).attr("y2", d => P.y(d[1]))
    .attr("stroke", "#1a1a1a").attr("stroke-width", 1.2);
  const star4 = {draw(ctx, size){ const r = Math.sqrt(size) / 1.2, k = r * 0.3;
    ctx.moveTo(0, -r); ctx.lineTo(k, -k); ctx.lineTo(r, 0); ctx.lineTo(k, k); ctx.lineTo(0, r);
    ctx.lineTo(-k, k); ctx.lineTo(-r, 0); ctx.lineTo(-k, -k); ctx.closePath(); }};
  P.plot.selectAll(".pt").data(w107Obs).join("path")
    .attr("transform", d => `translate(${P.x(d[0])},${P.y(d[1])})`)
    .attr("d", d3.symbol(star4, 26)).attr("fill", "#000");
  const arc = d3.line().x(d => P.x(d[0])).y(d => P.y(d[1])).curve(d3.curveBasis);
  P.g.append("path").attr("id", "cloudArc").datum(w107CloudArc).attr("d", arc).attr("fill", "none").attr("stroke", "#55528a").attr("stroke-width", 1.2);
  P.g.append("g").attr("transform", "translate(0,22)").append("text").attr("font-size", 16.5).attr("fill", ANNO)
    .append("textPath").attr("href", "#cloudArc").attr("startOffset", 8).text("Silicate Cloud");
  bandLabel(P, 5.35, 6.18, 100, "H2O", ANNO, 15.5);
  bandLabel(P, 6.22, 7.05, 71, "H2O", ANNO, 15.5);
  bandLabel(P, 7.05, 7.88, 45, "SO2", ANNO, 15.5);
  bandLabel(P, 8.18, 9.0, 80, "SO2", ANNO, 15.5);
  title(572, 733, [["Silicate clouds", false]], "In WASP-107b");
  ref(866, 753, "Dyrek+2024", "end");
  axisTitles("Wavelength (μm)", 722, 1015, "Transit depth (ppm)", 492, 881);
}
</script></body></html>
